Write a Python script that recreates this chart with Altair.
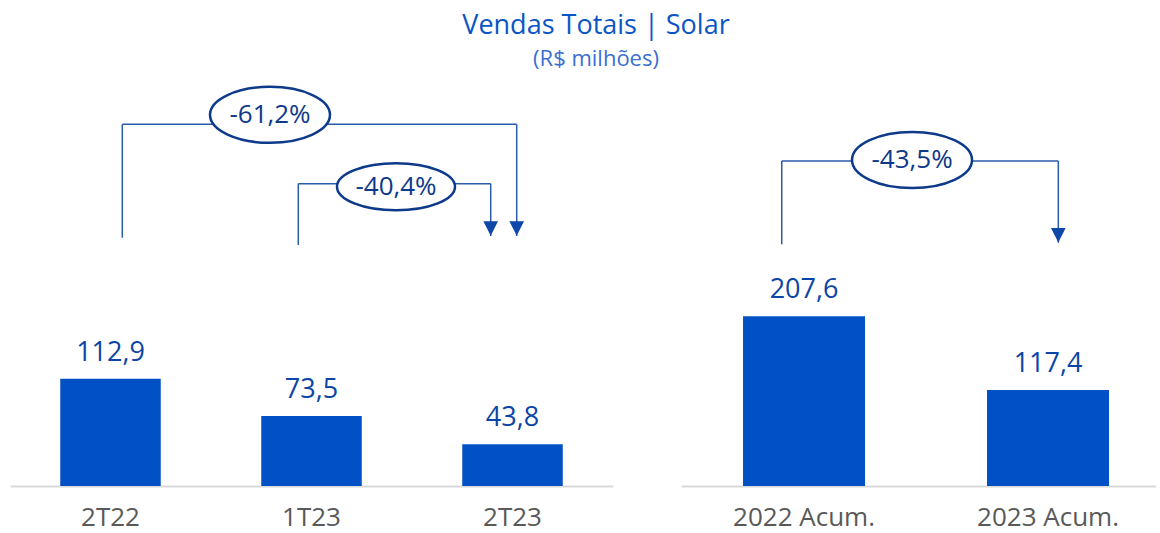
import altair as alt
import pandas as pd

# ---------------- data ----------------
quarter_labels = ["2T22", "1T23", "2T23"]
quarter_values = [112.9, 73.5, 43.8]

annual_labels = ["2022 Acum.", "2023 Acum."]
annual_values = [207.6, 117.4]

# variation brackets (values in data units of each panel)
q_from = ["2T22", "1T23"]
q_to = ["2T23", "2T23"]
q_change = ["-61,2%", "-40,4%"]
q_level = [380.3, 317.9]
q_leg_end = [261.1, 253.4]
q_tip = [262.9, 262.9]

a_from = ["2022 Acum."]
a_to = ["2023 Acum."]
a_change = ["-43,5%"]
a_level = [397.3]
a_leg_end = [295.5]
a_tip = [297.4]

# ---------------- style ----------------
FONT = "Open Sans"
BAR = "#0050C6"
VAL_TXT = "#0B45A6"
LINE = "#2A5AAA"
ELL = "#0D3A8A"
H = 403

q_styles = [
    dict(dx_from=11.8, dx_to=4.2, ex=159.5, ey=-9.5, ew=120, eh=56),
    dict(dx_from=-13.2, dx_to=-21.8, ex=84.5, ey=3, ew=118, eh=47),
]
a_styles = [
    dict(dx_from=-22.3, dx_to=10.3, ex=108, ey=-1, ew=120, eh=56),
]

TRI = "M -1 -1 L 1 -1 L 0 1 Z"


def ellipse_path(r):
    k = 0.5523
    return (f"M -1 0 C -1 {-k*r:.4f} {-k:.4f} {-r:.4f} 0 {-r:.4f} "
            f"C {k:.4f} {-r:.4f} 1 {-k*r:.4f} 1 0 "
            f"C 1 {k*r:.4f} {k:.4f} {r:.4f} 0 {r:.4f} "
            f"C {-k:.4f} {r:.4f} -1 {k*r:.4f} -1 0 Z")


def fmt(v):
    return f"{v:.1f}".replace(".", ",")


def panel(labels, values, froms, tos, changes, levels, legs, tips, styles,
          width, ymax, po, align):
    xscale = alt.Scale(domain=labels, paddingInner=0.5, paddingOuter=po, align=align)
    xaxis = alt.Axis(title=None, labelFontSize=26, labelColor="#595959", labelFont=FONT,
                     domainColor="#D9D9D9", domainWidth=2, ticks=False, labelPadding=18,
                     labelAngle=0, grid=False)
    yscale = alt.Scale(domain=[0, ymax], nice=False, zero=True)

    def X(f):
        return alt.X(f"{f}:N", scale=xscale, axis=xaxis)

    def Y(f):
        return alt.Y(f"{f}:Q", scale=yscale, axis=None)

    df = pd.DataFrame({"cat": labels, "val": values, "lbl": [fmt(v) for v in values]})
    bars = alt.Chart(df).mark_bar(color=BAR).encode(x=X("cat"), y=Y("val"))
    txt = alt.Chart(df).mark_text(fontSize=27, color=VAL_TXT, font=FONT, baseline="alphabetic",
                                  dy=-18).encode(x=X("cat"), y=Y("val"), text="lbl:N")
    layers = [bars, txt]
    for i, st in enumerate(styles):
        d = pd.DataFrame({"f": [froms[i]], "t": [tos[i]], "c": [changes[i]],
                          "lvl": [levels[i]], "leg": [legs[i]], "tip": [tips[i]]})
        b = alt.Chart(d)
        layers += [
            b.mark_rule(color=LINE, strokeWidth=1.5, xOffset=st["dx_from"]).encode(
                x=X("f"), y=Y("lvl"), y2="leg:Q"),
            b.mark_rule(color=LINE, strokeWidth=1.5, xOffset=st["dx_from"],
                        x2Offset=st["dx_to"]).encode(x=X("f"), x2="t:N", y=Y("lvl")),
            b.mark_rule(color=LINE, strokeWidth=1.5, xOffset=st["dx_to"]).encode(
                x=X("t"), y=Y("lvl"), y2="tip:Q"),
            b.mark_point(shape=TRI, filled=True, color="#0D47A8", size=215, opacity=1,
                         xOffset=st["dx_to"], yOffset=-7.5).encode(x=X("t"), y=Y("tip")),
            b.mark_point(shape=ellipse_path(st["eh"] / st["ew"]), size=st["ew"] ** 2,
                         filled=True, fill="white", stroke=ELL, strokeWidth=2.5, opacity=1,
                         xOffset=st["ex"], yOffset=st["ey"]).encode(x=X("f"), y=Y("lvl")),
            b.mark_text(fontSize=26, color=ELL, font=FONT, baseline="middle",
                        xOffset=st["ex"], yOffset=st["ey"]).encode(
                x=X("f"), y=Y("lvl"), text="c:N"),
        ]
    return alt.layer(*layers).properties(width=width, height=H)


left = panel(quarter_labels, quarter_values, q_from, q_to, q_change, q_level, q_leg_end,
             q_tip, q_styles, 603, H / 0.951, 0.25, 0.5)
right = panel(annual_labels, annual_values, a_from, a_to, a_change, a_level, a_leg_end,
              a_tip, a_styles, 475, H / 0.818, 0.2234, 0.569)

chart = alt.hconcat(left, right, spacing=68).properties(
    title=alt.TitleParams(
        text="Vendas Totais | Solar",
        subtitle="(R$ milhões)",
        anchor="middle",
        dx=13,
        font=FONT,
        fontSize=27,
        fontWeight=500,
        color="#0A55C6",
        subtitleFont=FONT,
        subtitleFontSize=22,
        subtitleColor="#3A6FD0",
        subtitlePadding=9,
        offset=11,
    ),
    padding={"left": 10, "top": 11, "right": 0, "bottom": 5},
).configure(font=FONT).configure_view(stroke="transparent", strokeWidth=0)

chart.save("out.html", embed_options={"renderer": "svg", "actions": False})
